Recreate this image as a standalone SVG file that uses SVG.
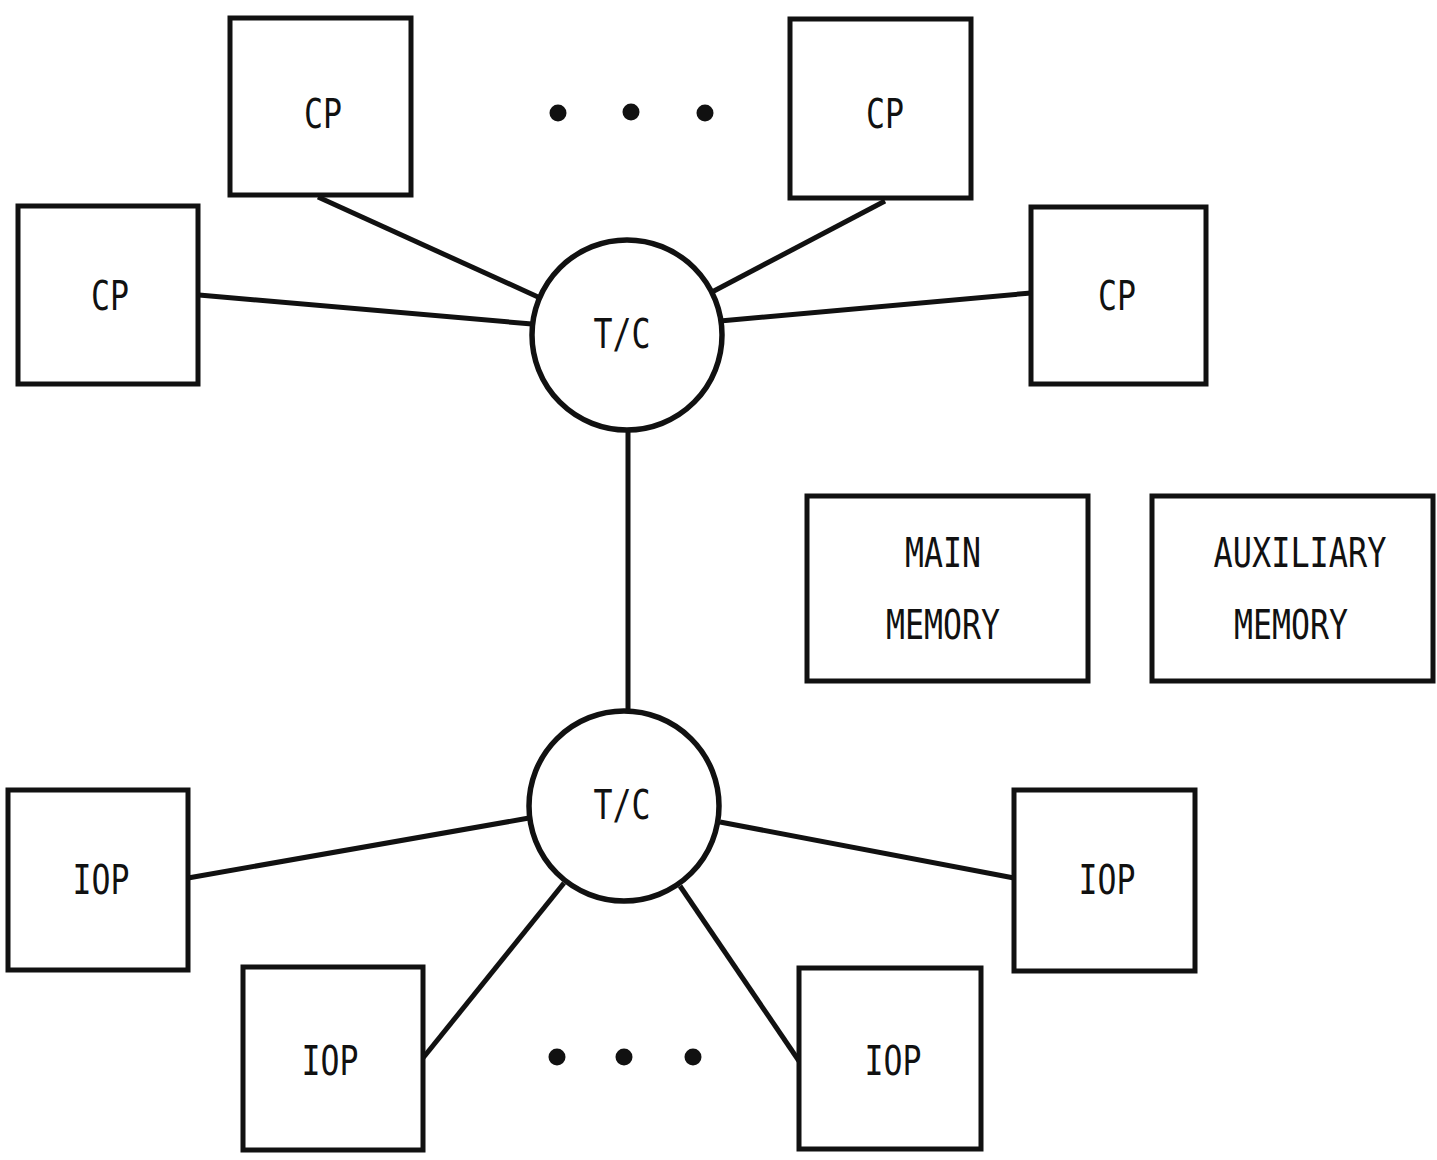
<svg xmlns="http://www.w3.org/2000/svg" width="1437" height="1160" viewBox="0 0 1437 1160">
  <style>
    .box { fill: #fff; stroke: #111; stroke-width: 5; }
    .hub { fill: #fff; stroke: #111; stroke-width: 5.5; }
    .wire { stroke: #111; stroke-width: 5; fill: none; }
    .lbl { font-family: "DejaVu Sans Mono", "Liberation Mono", monospace; font-size: 41px; fill: #111; text-anchor: middle; }
    .dot { fill: #111; }
  </style>
  <rect width="1437" height="1160" fill="#fff"/>

  <g id="connectors">
    <line class="wire" x1="318" y1="197" x2="538" y2="297"/>
    <line class="wire" x1="199" y1="295" x2="532" y2="324"/>
    <line class="wire" x1="885" y1="201" x2="712" y2="292"/>
    <line class="wire" x1="1031" y1="293" x2="720" y2="321"/>
    <line class="wire" x1="628" y1="432" x2="628" y2="711"/>
    <line class="wire" x1="188" y1="878" x2="529" y2="818"/>
    <line class="wire" x1="423" y1="1058" x2="564" y2="883"/>
    <line class="wire" x1="799" y1="1061" x2="680" y2="886"/>
    <line class="wire" x1="1014" y1="878" x2="720" y2="822"/>
  </g>

  <g id="cp-top-left">
    <rect class="box" x="230" y="18" width="181" height="177"/>
    <text class="lbl" x="323" y="128" textLength="38" lengthAdjust="spacingAndGlyphs">CP</text>
  </g>
  <g id="cp-top-right">
    <rect class="box" x="790" y="19" width="181" height="179"/>
    <text class="lbl" x="885" y="128" textLength="38" lengthAdjust="spacingAndGlyphs">CP</text>
  </g>
  <g id="cp-left">
    <rect class="box" x="18" y="206" width="180" height="178"/>
    <text class="lbl" x="110" y="310" textLength="38" lengthAdjust="spacingAndGlyphs">CP</text>
  </g>
  <g id="cp-right">
    <rect class="box" x="1031" y="207" width="175" height="177"/>
    <text class="lbl" x="1117" y="310" textLength="38" lengthAdjust="spacingAndGlyphs">CP</text>
  </g>

  <g id="tc-top">
    <circle class="hub" cx="627" cy="335" r="95"/>
    <text class="lbl" x="622" y="348" textLength="57" lengthAdjust="spacingAndGlyphs">T/C</text>
  </g>
  <g id="tc-bottom">
    <circle class="hub" cx="624" cy="806" r="95"/>
    <text class="lbl" x="622" y="819" textLength="57" lengthAdjust="spacingAndGlyphs">T/C</text>
  </g>

  <g id="main-memory">
    <rect class="box" x="807" y="496" width="281" height="185"/>
    <text class="lbl" x="943" y="567" textLength="76" lengthAdjust="spacingAndGlyphs">MAIN</text>
    <text class="lbl" x="943" y="639" textLength="114" lengthAdjust="spacingAndGlyphs">MEMORY</text>
  </g>
  <g id="auxiliary-memory">
    <rect class="box" x="1152" y="496" width="281" height="185"/>
    <text class="lbl" x="1300" y="567" textLength="173" lengthAdjust="spacingAndGlyphs">AUXILIARY</text>
    <text class="lbl" x="1291" y="639" textLength="114" lengthAdjust="spacingAndGlyphs">MEMORY</text>
  </g>

  <g id="iop-left">
    <rect class="box" x="8" y="790" width="180" height="180"/>
    <text class="lbl" x="101" y="894" textLength="57" lengthAdjust="spacingAndGlyphs">IOP</text>
  </g>
  <g id="iop-bottom-left">
    <rect class="box" x="243" y="967" width="180" height="183"/>
    <text class="lbl" x="330" y="1075" textLength="57" lengthAdjust="spacingAndGlyphs">IOP</text>
  </g>
  <g id="iop-bottom-right">
    <rect class="box" x="799" y="968" width="182" height="181"/>
    <text class="lbl" x="893" y="1075" textLength="57" lengthAdjust="spacingAndGlyphs">IOP</text>
  </g>
  <g id="iop-right">
    <rect class="box" x="1014" y="790" width="181" height="181"/>
    <text class="lbl" x="1107" y="894" textLength="57" lengthAdjust="spacingAndGlyphs">IOP</text>
  </g>

  <g id="ellipsis-top">
    <circle class="dot" cx="558" cy="113" r="8.5"/>
    <circle class="dot" cx="631" cy="112" r="8.5"/>
    <circle class="dot" cx="705" cy="113" r="8.5"/>
  </g>
  <g id="ellipsis-bottom">
    <circle class="dot" cx="557" cy="1057" r="8.5"/>
    <circle class="dot" cx="624" cy="1057" r="8.5"/>
    <circle class="dot" cx="693" cy="1057" r="8.5"/>
  </g>
</svg>
